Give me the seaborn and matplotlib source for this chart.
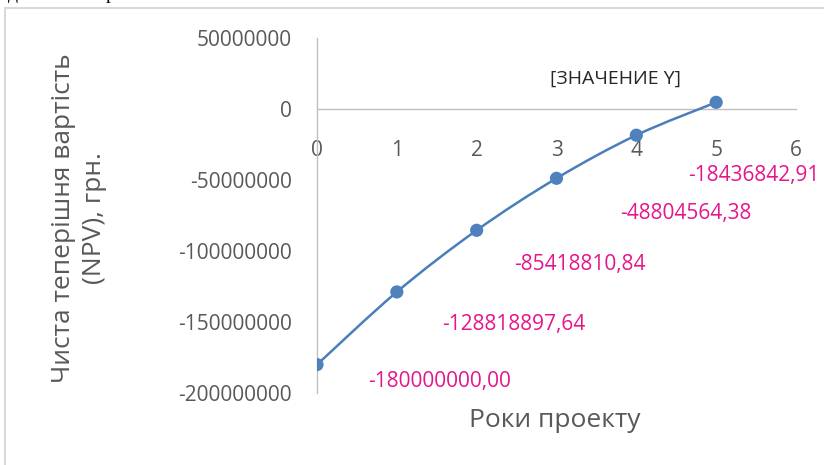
import numpy as np
import pandas as pd
import seaborn as sns
import matplotlib
matplotlib.use("Agg")
import matplotlib.pyplot as plt
from matplotlib.path import Path
from matplotlib.patches import PathPatch
from matplotlib.lines import Line2D

# NPV by project year
years = [0, 1, 2, 3, 4, 5]
npv = [-180000000.00, -128818897.64, -85418810.84, -48804564.38, -18436842.91, 4700000.00]
point_labels = ["-180000000,00", "-128818897,64", "-85418810,84",
                "-48804564,38", "-18436842,91", "[ЗНАЧЕНИЕ Y]"]
y_ticks = [50000000, 0, -50000000, -100000000, -150000000, -200000000]
x_ticks = [0, 1, 2, 3, 4, 5, 6]

sns.set_theme(style="white")
plt.rcParams["font.family"] = ["Open Sans", "DejaVu Sans"]

W, H = 824, 465
fig = plt.figure(figsize=(W / 100, H / 100), dpi=100)
fig.patch.set_facecolor("white")

# chart frame (left and top edges visible)
frame_c = "#D9D9D9"
fig.add_artist(Line2D([5 / W, 5 / W], [0, 1 - 8 / H], transform=fig.transFigure,
                      color=frame_c, lw=1.5))
fig.add_artist(Line2D([5 / W, 1], [1 - 8 / H, 1 - 8 / H], transform=fig.transFigure,
                      color=frame_c, lw=1.5))

# descenders of the page text line above the chart
fig.text(8 / W, 1 + 1 / H, "д", family="Liberation Serif", fontsize=14,
         va="baseline", ha="left", color="black")
fig.text(106 / W, 1 + 1 / H, "р", family="Liberation Serif", fontsize=14,
         va="baseline", ha="left", color="black")

ax = fig.add_axes([317 / W, 1 - 393 / H, (796 - 317) / W, (393 - 38) / H])
ax.set_xlim(0, 6)
ax.set_ylim(-200000000, 50000000)
ax.set_facecolor("none")

df = pd.DataFrame({"year": years, "npv": npv})

# smoothed connecting line (Catmull-Rom style Bezier through the points)
pts = df[["year", "npv"]].to_numpy(dtype=float)
ext = np.vstack([pts[0], pts, pts[-1]])
verts = [tuple(pts[0])]
codes = [Path.MOVETO]
for i in range(len(pts) - 1):
    p0, p1, p2, p3 = ext[i], ext[i + 1], ext[i + 2], ext[i + 3]
    c1 = p1 + (p2 - p0) / 6.0
    c2 = p2 - (p3 - p1) / 6.0
    verts += [tuple(c1), tuple(c2), tuple(p2)]
    codes += [Path.CURVE4] * 3
ax.add_patch(PathPatch(Path(verts, codes), transform=ax.transData, fill=False,
                       edgecolor="#4A7EBB", lw=1.8, zorder=3))

sns.scatterplot(data=df, x="year", y="npv", ax=ax, s=90, color="#4F81BD",
                edgecolor="none", zorder=4, legend=False)

# axes styling
axis_c = "#BFBFBF"
for side in ["top", "right"]:
    ax.spines[side].set_visible(False)
ax.spines["left"].set_color(axis_c)
ax.spines["left"].set_linewidth(1.0)
ax.spines["bottom"].set_color(axis_c)
ax.spines["bottom"].set_linewidth(1.0)
ax.spines["bottom"].set_position(("data", 0))
ax.grid(False)

ax.set_xticks(x_ticks)
ax.set_xticklabels([str(t) for t in x_ticks])
ax.set_yticks(y_ticks)
ax.set_yticklabels([str(t) for t in y_ticks])
ax.tick_params(axis="x", length=0, pad=22, labelsize=15, labelcolor="#595959")
ax.tick_params(axis="y", length=0, pad=18, labelsize=15, labelcolor="#595959")
ax.set_xlabel("")
ax.set_ylabel("")

# data labels
offsets = [(51, -17), (45, -33), (37, -34), (64, -35), (52, -40), (-166, 24)]
for i, (x, y) in enumerate(zip(years, npv)):
    col = "#E5168C" if i < len(years) - 1 else "#262626"
    ax.annotate(point_labels[i], xy=(x, y), xytext=offsets[i],
                textcoords="offset pixels", ha="left", va="center",
                fontsize=15 if i < len(years) - 1 else 14, color=col,
                annotation_clip=False, zorder=5)

# axis titles
fig.text(555 / W, 1 - 420 / H, "Роки проекту", ha="center", va="center",
         fontsize=19, color="#595959")
fig.text(79 / W, 1 - 218 / H, "Чиста теперішня вартість\n(NPV), грн.",
         ha="center", va="center", rotation=90, fontsize=19, color="#595959",
         multialignment="center", linespacing=1.3)

fig.savefig("out.png", dpi=100, facecolor="white")
